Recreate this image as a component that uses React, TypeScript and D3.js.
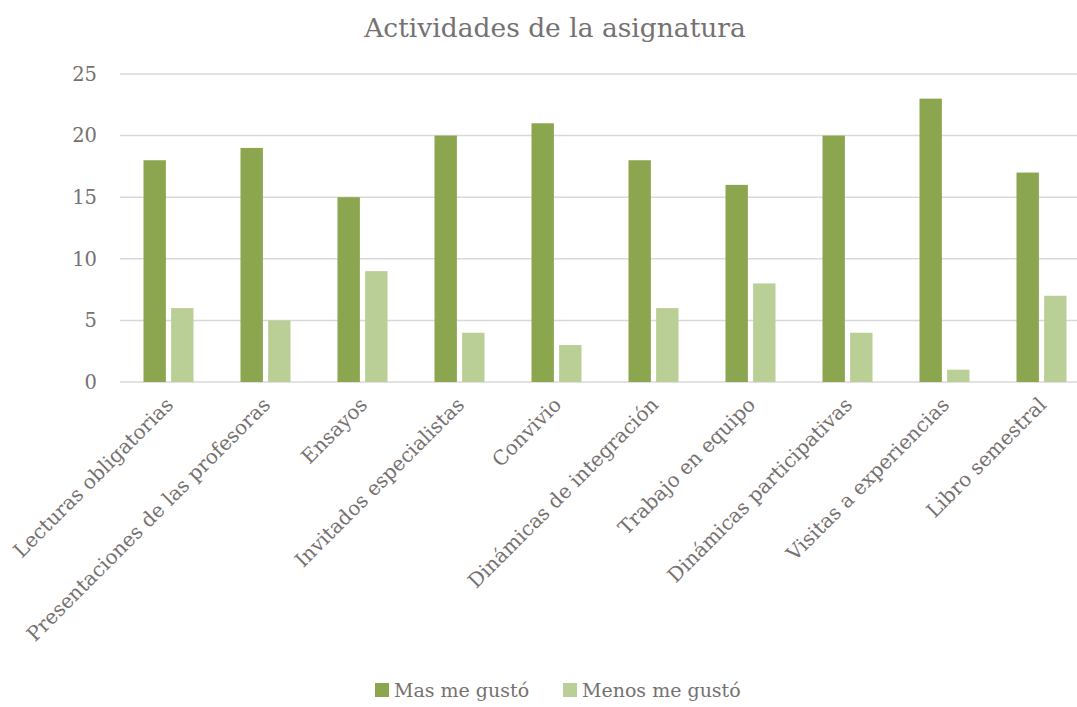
import React from "react";
import * as d3 from "d3";

const categories = [
  "Lecturas obligatorias",
  "Presentaciones de las profesoras",
  "Ensayos",
  "Invitados especialistas",
  "Convivio",
  "Dinámicas de integración",
  "Trabajo en equipo",
  "Dinámicas participativas",
  "Visitas a experiencias",
  "Libro semestral",
];
const seriesNames = ["Mas me gustó", "Menos me gustó"];
const masMeGusto = [18, 19, 15, 20, 21, 18, 16, 20, 23, 17];
const menosMeGusto = [6, 5, 9, 4, 3, 6, 8, 4, 1, 7];
const yTicks = [0, 5, 10, 15, 20, 25];
const colors = ["#8ba64f", "#bacf96"];

const W = 1077;
const H = 707;
const FONT = "'DejaVu Serif', 'Liberation Serif', serif";
const TEXT = "#767171";

export default function App() {
  const x0 = d3.scaleBand<string>().domain(categories).range([120, 1090]).padding(0);
  const groupW = 50;
  const x1 = d3.scaleBand<string>().domain(seriesNames).range([0, groupW]).paddingInner(0.19);
  const y = d3.scaleLinear().domain([0, 25]).range([382, 74]);
  const series = [masMeGusto, menosMeGusto];

  return (
    <svg width={W} height={H} style={{ display: "block", position: "absolute", left: 0, top: 0 }} fontFamily={FONT}>
      <rect width={W} height={H} fill="#fff" />
      <text x={555} y={37} textAnchor="middle" fontSize={26.5} fill={TEXT}>
        Actividades de la asignatura
      </text>
      {yTicks.map((t) => (
        <g key={t}>
          <line x1={120} x2={1090} y1={y(t)} y2={y(t)} stroke="#d9d9d9" strokeWidth={1.5} />
          <text x={97} y={y(t)} dy="0.35em" textAnchor="end" fontSize={19.5} fill={TEXT}>
            {t}
          </text>
        </g>
      ))}
      {categories.map((c, i) => (
        <g key={c} transform={`translate(${(x0(c) as number) + (x0.bandwidth() - groupW) / 2},0)`}>
          {seriesNames.map((s, k) => (
            <rect
              key={s}
              x={x1(s) as number}
              y={y(series[k][i])}
              width={x1.bandwidth()}
              height={y(0) - y(series[k][i])}
              fill={colors[k]}
            />
          ))}
        </g>
      ))}
      {categories.map((c) => {
        const cx = (x0(c) as number) + x0.bandwidth() / 2;
        return (
          <text
            key={c}
            transform={`translate(${cx + 6},${406}) rotate(-45)`}
            textAnchor="end"
            fontSize={20}
            fill={TEXT}
          >
            {c}
          </text>
        );
      })}
      {seriesNames.map((s, k) => {
        const lx = k === 0 ? 375 : 563;
        return (
          <g key={s}>
            <rect x={lx} y={683} width={14} height={14} fill={colors[k]} />
            <text x={lx + 19} y={697} fontSize={19} fill={TEXT}>
              {s}
            </text>
          </g>
        );
      })}
    </svg>
  );
}
